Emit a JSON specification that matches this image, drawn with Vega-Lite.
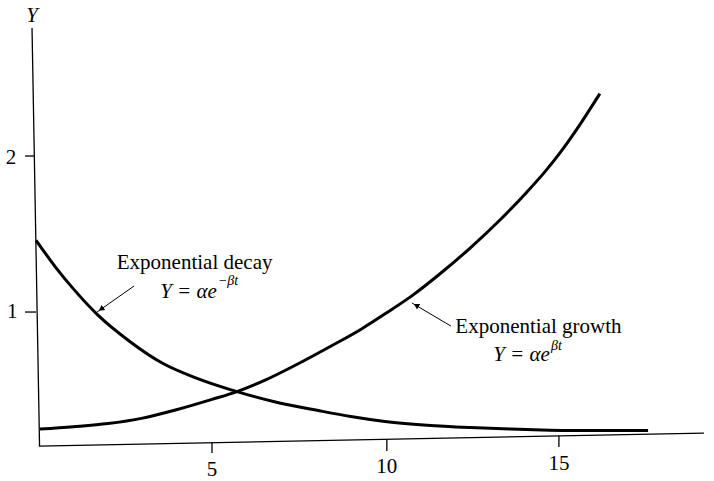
{
  "$schema": "https://vega.github.io/schema/vega-lite/v6.json",
  "width": 714,
  "height": 481,
  "autosize": "none",
  "padding": 0,
  "background": "white",
  "config": {"view": {"stroke": null}, "text": {"font": "Liberation Serif"}},
  "datasets": {
    "curves": [
      {"series": "growth", "t": 0.04, "Y": 0.25},
      {"series": "growth", "t": 1.0, "Y": 0.265},
      {"series": "growth", "t": 2.0, "Y": 0.285},
      {"series": "growth", "t": 3.0, "Y": 0.32},
      {"series": "growth", "t": 4.0, "Y": 0.375},
      {"series": "growth", "t": 5.0, "Y": 0.44},
      {"series": "growth", "t": 5.72, "Y": 0.49},
      {"series": "growth", "t": 6.5, "Y": 0.56},
      {"series": "growth", "t": 7.5, "Y": 0.67},
      {"series": "growth", "t": 8.5, "Y": 0.79},
      {"series": "growth", "t": 9.3, "Y": 0.89},
      {"series": "growth", "t": 10.0, "Y": 0.99},
      {"series": "growth", "t": 10.8, "Y": 1.11},
      {"series": "growth", "t": 11.6, "Y": 1.25},
      {"series": "growth", "t": 12.44, "Y": 1.41},
      {"series": "growth", "t": 13.3, "Y": 1.59},
      {"series": "growth", "t": 14.08, "Y": 1.77},
      {"series": "growth", "t": 14.6, "Y": 1.9},
      {"series": "growth", "t": 15.03, "Y": 2.02},
      {"series": "growth", "t": 15.6, "Y": 2.2},
      {"series": "growth", "t": 16.18, "Y": 2.4},
      {"series": "decay", "t": -0.07, "Y": 1.46},
      {"series": "decay", "t": 0.5, "Y": 1.285},
      {"series": "decay", "t": 1.0, "Y": 1.15},
      {"series": "decay", "t": 1.69, "Y": 0.985},
      {"series": "decay", "t": 2.64, "Y": 0.81},
      {"series": "decay", "t": 3.59, "Y": 0.67},
      {"series": "decay", "t": 4.57, "Y": 0.575},
      {"series": "decay", "t": 5.72, "Y": 0.49},
      {"series": "decay", "t": 6.8, "Y": 0.425},
      {"series": "decay", "t": 8.03, "Y": 0.37},
      {"series": "decay", "t": 9.0, "Y": 0.33},
      {"series": "decay", "t": 9.93, "Y": 0.3},
      {"series": "decay", "t": 11.2, "Y": 0.275},
      {"series": "decay", "t": 12.44, "Y": 0.26},
      {"series": "decay", "t": 13.6, "Y": 0.25},
      {"series": "decay", "t": 14.74, "Y": 0.243},
      {"series": "decay", "t": 16.0, "Y": 0.24},
      {"series": "decay", "t": 17.57, "Y": 0.24}
    ],
    "axes": [
      {"part": "xaxis", "t": 0.01, "Y": 0.141, "t2": 19.18, "Y2": 0.224},
      {"part": "yaxis", "t": 0.03, "Y": 0.141, "t2": -0.187, "Y2": 2.82},
      {"part": "tick", "t": -0.389, "Y": 2.0, "t2": -0.13, "Y2": 2.0},
      {"part": "tick", "t": -0.389, "Y": 1.0, "t2": -0.072, "Y2": 1.0},
      {"part": "tick", "t": 5.0, "Y": 0.163, "t2": 5.0, "Y2": 0.096},
      {"part": "tick", "t": 10.04, "Y": 0.185, "t2": 10.04, "Y2": 0.109},
      {"part": "tick", "t": 15.0, "Y": 0.205, "t2": 15.0, "Y2": 0.135}
    ],
    "arrows": [
      {"name": "decay", "t": 2.755, "Y": 1.167, "t2": 1.686, "Y2": 1.0, "ht": 1.804, "hY": 1.019, "angle": 235},
      {"name": "growth", "t": 11.888, "Y": 0.91, "t2": 10.764, "Y2": 1.058, "ht": 10.888, "hY": 1.042, "angle": 300}
    ],
    "labels": [
      {"kind": "roman", "t": 5.0, "Y": -0.013, "text": "5"},
      {"kind": "roman", "t": 10.04, "Y": 0.006, "text": "10"},
      {"kind": "roman", "t": 15.0, "Y": 0.026, "text": "15"},
      {"kind": "roman", "t": -0.79, "Y": 1.99, "text": "2"},
      {"kind": "roman", "t": -0.76, "Y": 1.0, "text": "1"},
      {"kind": "roman", "t": 4.5, "Y": 1.314, "text": "Exponential decay"},
      {"kind": "roman", "t": 14.41, "Y": 0.904, "text": "Exponential growth"},
      {"kind": "italic", "align": "center", "t": -0.187, "Y": 2.9, "text": "Y"},
      {"kind": "italic", "align": "right", "t": 5.14, "Y": 1.13, "text": "Y = αe"},
      {"kind": "italic", "align": "right", "t": 14.74, "Y": 0.724, "text": "Y = αe"},
      {"kind": "sup", "t": 5.17, "Y": 1.198, "text": "−βt"},
      {"kind": "sup", "t": 14.77, "Y": 0.782, "text": "βt"}
    ]
  },
  "layer": [
    {
      "data": {"name": "axes"},
      "mark": {"type": "rule", "color": "black", "strokeWidth": 1.3},
      "encoding": {
        "x": {"field": "t", "type": "quantitative", "scale": {"domain": [-1.11, 19.47], "nice": false, "zero": false}, "axis": null},
        "y": {"field": "Y", "type": "quantitative", "scale": {"domain": [-0.083, 3.0], "nice": false, "zero": false}, "axis": null},
        "x2": {"field": "t2"},
        "y2": {"field": "Y2"}
      }
    },
    {
      "data": {"name": "curves"},
      "mark": {"type": "line", "color": "black", "strokeWidth": 3, "interpolate": "monotone"},
      "encoding": {
        "x": {"field": "t", "type": "quantitative", "scale": {"domain": [-1.11, 19.47], "nice": false, "zero": false}, "axis": null},
        "y": {"field": "Y", "type": "quantitative", "scale": {"domain": [-0.083, 3.0], "nice": false, "zero": false}, "axis": null},
        "detail": {"field": "series", "type": "nominal"}
      }
    },
    {
      "data": {"name": "arrows"},
      "mark": {"type": "rule", "color": "black", "strokeWidth": 1},
      "encoding": {
        "x": {"field": "t", "type": "quantitative", "scale": {"domain": [-1.11, 19.47], "nice": false, "zero": false}, "axis": null},
        "y": {"field": "Y", "type": "quantitative", "scale": {"domain": [-0.083, 3.0], "nice": false, "zero": false}, "axis": null},
        "x2": {"field": "t2"},
        "y2": {"field": "Y2"}
      }
    },
    {
      "data": {"name": "arrows"},
      "mark": {"type": "point", "shape": "triangle-up", "filled": true, "color": "black", "size": 40, "opacity": 1, "strokeWidth": 0},
      "encoding": {
        "x": {"field": "ht", "type": "quantitative", "scale": {"domain": [-1.11, 19.47], "nice": false, "zero": false}, "axis": null},
        "y": {"field": "hY", "type": "quantitative", "scale": {"domain": [-0.083, 3.0], "nice": false, "zero": false}, "axis": null},
        "angle": {"field": "angle", "type": "quantitative", "scale": null}
      }
    },
    {
      "data": {"name": "labels"},
      "transform": [{"filter": "datum.kind === 'roman'"}],
      "mark": {"type": "text", "font": "Liberation Serif", "fontSize": 21, "color": "black", "baseline": "middle", "align": "center"},
      "encoding": {
        "x": {"field": "t", "type": "quantitative", "scale": {"domain": [-1.11, 19.47], "nice": false, "zero": false}, "axis": null},
        "y": {"field": "Y", "type": "quantitative", "scale": {"domain": [-0.083, 3.0], "nice": false, "zero": false}, "axis": null},
        "text": {"field": "text"}
      }
    },
    {
      "data": {"name": "labels"},
      "transform": [{"filter": "datum.kind === 'italic'"}],
      "mark": {"type": "text", "font": "Liberation Serif", "fontSize": 21, "fontStyle": "italic", "color": "black", "baseline": "middle", "align": {"expr": "datum.align"}},
      "encoding": {
        "x": {"field": "t", "type": "quantitative", "scale": {"domain": [-1.11, 19.47], "nice": false, "zero": false}, "axis": null},
        "y": {"field": "Y", "type": "quantitative", "scale": {"domain": [-0.083, 3.0], "nice": false, "zero": false}, "axis": null},
        "text": {"field": "text"}
      }
    },
    {
      "data": {"name": "labels"},
      "transform": [{"filter": "datum.kind === 'sup'"}],
      "mark": {"type": "text", "font": "Liberation Serif", "fontSize": 14, "fontStyle": "italic", "color": "black", "baseline": "middle", "align": "left"},
      "encoding": {
        "x": {"field": "t", "type": "quantitative", "scale": {"domain": [-1.11, 19.47], "nice": false, "zero": false}, "axis": null},
        "y": {"field": "Y", "type": "quantitative", "scale": {"domain": [-0.083, 3.0], "nice": false, "zero": false}, "axis": null},
        "text": {"field": "text"}
      }
    }
  ]
}
